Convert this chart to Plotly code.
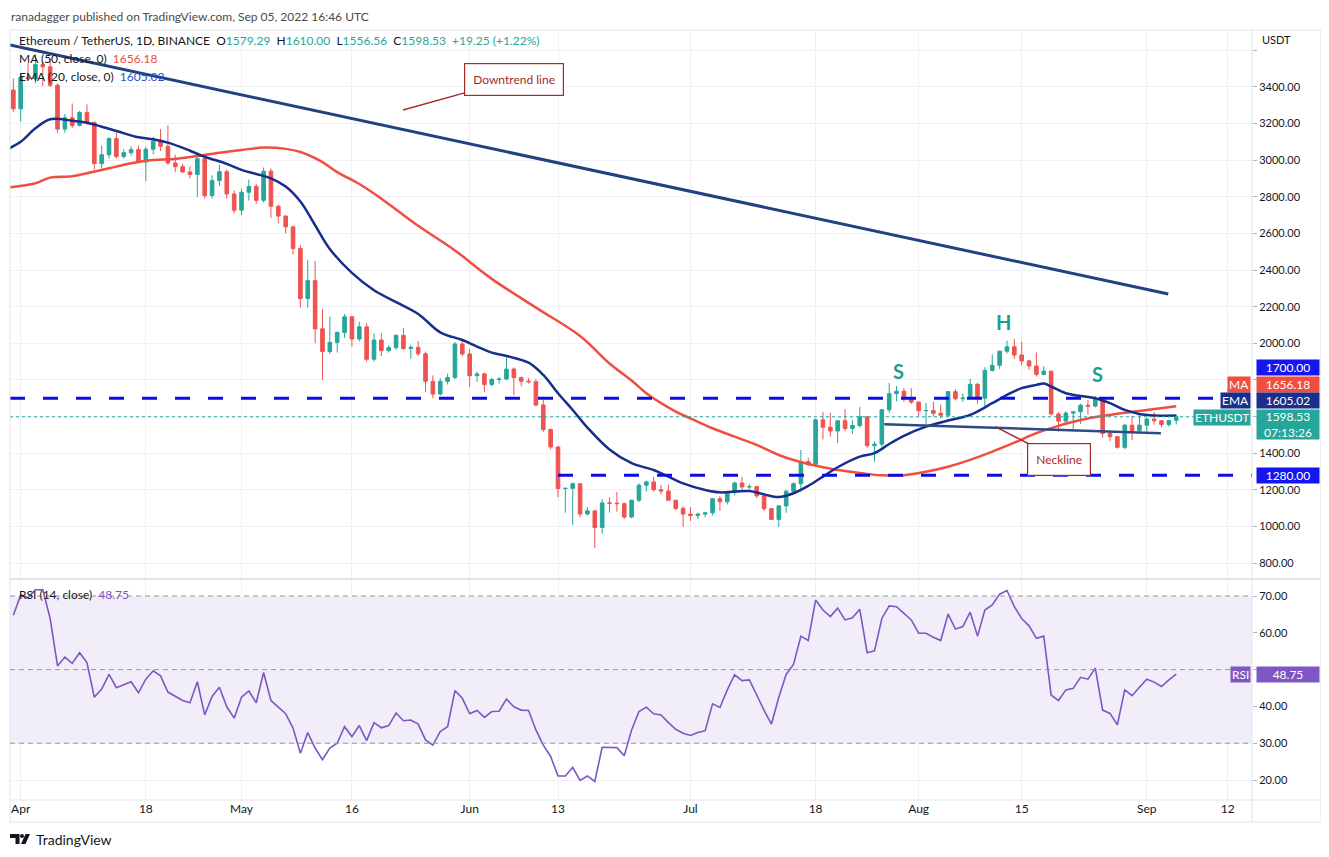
import pandas as pd
import plotly.graph_objects as go

# ---- data --------------------------------------------------------------------
dates = pd.date_range("2022-03-31", "2022-09-05", freq="D")

opens = [
    3383,
    3281, 3452, 3444, 3522, 3510, 3410, 3170, 3232, 3190, 3261, 3207, 2982, 3030, 3118, 3020,
    3041, 3058, 2990, 3060, 3104, 3076, 2985, 2965, 2936, 2922, 3008, 2807, 2889, 2937, 2816,
    2727, 2825, 2857, 2781, 2940, 2749, 2695, 2636, 2518, 2244, 2342, 2079, 1955, 2005, 2059,
    2145, 2024, 2090, 1913, 2018, 1960, 1976, 2043, 1972, 1978, 1943, 1793, 1723, 1792, 1813, 1996,
    1942, 1823, 1833, 1775, 1802, 1805, 1859, 1813, 1793, 1790, 1663, 1529, 1434, 1207, 1208,
    1233, 1068, 1085, 994, 1128, 1127, 1124, 1051, 1143, 1225, 1243, 1200, 1193, 1143, 1098,
    1067, 1059, 1067, 1074, 1151, 1134, 1187, 1237, 1215, 1217, 1167, 1097, 1038, 1112, 1192,
    1233, 1354, 1339, 1582, 1542, 1521, 1577, 1535, 1551, 1599, 1441, 1449, 1637, 1725, 1738, 1696,
    1679, 1632, 1633, 1618, 1607, 1736, 1697, 1701, 1776, 1700, 1852, 1880, 1957, 1981, 1936,
    1904, 1876, 1830, 1848, 1614, 1575, 1619, 1626, 1662, 1657, 1696, 1507, 1490, 1432, 1553, 1524,
    1553, 1586, 1577, 1556, 1579.29,
]
highs = [
    3446,
    3470, 3530, 3580, 3540, 3555, 3420, 3252, 3310, 3270, 3305, 3210, 3080, 3125, 3150, 3061,
    3076, 3080, 3074, 3128, 3170, 3190, 3030, 2980, 2965, 3018, 3037, 2918, 2975, 2950, 2835,
    2845, 2895, 2870, 2960, 2955, 2755, 2700, 2640, 2536, 2455, 2450, 2187, 2145, 2065, 2160,
    2148, 2117, 2110, 2055, 2055, 1990, 2050, 2085, 1990, 2013, 1955, 1825, 1810, 1835, 2007, 2023,
    1970, 1845, 1840, 1810, 1815, 1920, 1868, 1818, 1810, 1805, 1690, 1535, 1437, 1210, 1240,
    1233, 1105, 1085, 1150, 1160, 1188, 1130, 1145, 1235, 1250, 1270, 1226, 1228, 1145, 1110,
    1105, 1075, 1080, 1152, 1165, 1192, 1245, 1270, 1232, 1222, 1168, 1100, 1115, 1200, 1240,
    1417, 1375, 1590, 1625, 1620, 1580, 1640, 1580, 1652, 1600, 1465, 1640, 1783, 1767, 1756, 1755,
    1680, 1674, 1680, 1665, 1740, 1750, 1725, 1805, 1785, 1870, 1940, 1960, 2015, 2025, 2008,
    1910, 1950, 1875, 1850, 1625, 1630, 1630, 1670, 1690, 1712, 1700, 1515, 1495, 1560, 1605, 1608,
    1594, 1625, 1580, 1582, 1610.00,
]
lows = [
    3265,
    3210, 3436, 3420, 3405, 3400, 3150, 3150, 3175, 3185, 3195, 2950, 2955, 3010, 3010, 3010,
    3025, 2985, 2885, 3032, 3050, 2975, 2935, 2930, 2900, 2800, 2790, 2790, 2860, 2790, 2710,
    2700, 2780, 2760, 2770, 2685, 2655, 2600, 2485, 2195, 2195, 2000, 1800, 1940, 1950, 2030,
    1980, 2010, 1900, 1900, 1930, 1950, 1965, 1965, 1915, 1930, 1733, 1700, 1715, 1775, 1805, 1930,
    1762, 1790, 1733, 1765, 1780, 1800, 1718, 1765, 1780, 1655, 1515, 1420, 1160, 1075, 1008,
    1050, 1060, 882, 960, 1075, 1080, 1040, 1045, 1133, 1190, 1190, 1175, 1140, 1090, 997,
    1030, 1040, 1050, 1060, 1085, 1120, 1170, 1200, 1205, 1155, 1085, 1035, 997, 1075, 1175,
    1190, 1330, 1330, 1475, 1490, 1456, 1520, 1505, 1540, 1430, 1353, 1435, 1620, 1683, 1680, 1668,
    1600, 1555, 1600, 1590, 1600, 1688, 1680, 1695, 1670, 1655, 1845, 1860, 1945, 1915, 1880,
    1855, 1818, 1825, 1605, 1518, 1552, 1532, 1560, 1610, 1650, 1485, 1465, 1425, 1422, 1472, 1515,
    1520, 1555, 1540, 1545, 1556.56,
]
closes = [
    3281,
    3452, 3444, 3522, 3510, 3410, 3170, 3232, 3190, 3261, 3207, 2982, 3030, 3118, 3020, 3041,
    3058, 2990, 3060, 3104, 3076, 2985, 2965, 2936, 2922, 3008, 2807, 2889, 2937, 2816, 2727,
    2825, 2857, 2781, 2940, 2749, 2695, 2636, 2518, 2244, 2342, 2079, 1955, 2005, 2059, 2145,
    2024, 2090, 1913, 2018, 1960, 1976, 2043, 1972, 1978, 1943, 1793, 1723, 1792, 1813, 1996, 1942,
    1823, 1833, 1775, 1802, 1805, 1859, 1813, 1793, 1790, 1663, 1529, 1434, 1207, 1208, 1233,
    1068, 1085, 994, 1128, 1127, 1124, 1051, 1143, 1225, 1243, 1200, 1193, 1143, 1098, 1067,
    1059, 1067, 1074, 1151, 1134, 1187, 1237, 1215, 1217, 1167, 1097, 1038, 1112, 1192, 1233,
    1354, 1339, 1582, 1542, 1521, 1577, 1535, 1551, 1599, 1441, 1449, 1637, 1725, 1738, 1696, 1679,
    1632, 1633, 1618, 1607, 1736, 1697, 1701, 1776, 1700, 1852, 1880, 1957, 1981, 1936, 1904,
    1876, 1830, 1848, 1614, 1575, 1619, 1626, 1662, 1657, 1696, 1507, 1490, 1432, 1553, 1524, 1553,
    1586, 1577, 1556, 1579, 1598.53,
]
rsi = [
    64.8,
    70.3, 69.5, 71.7, 71.7, 63.9, 51.0, 53.4, 51.7, 54.6, 51.9, 42.5, 44.7, 48.7, 45.1, 45.8,
    46.7, 43.7, 47.4, 49.7, 48.3, 43.9, 42.7, 41.6, 41.0, 46.7, 37.7, 42.7, 45.2, 39.9, 36.8,
    42.5, 44.2, 41.0, 49.2, 41.6, 39.8, 38.0, 34.1, 27.3, 32.9, 28.7, 25.5, 28.7, 30.0, 34.5,
    31.8, 34.8, 30.7, 35.6, 34.2, 34.8, 38.2, 36.1, 36.3, 35.2, 30.9, 29.5, 33.2, 34.5, 44.3, 42.2,
    38.0, 38.9, 37.0, 38.6, 38.7, 42.0, 39.9, 39.0, 38.9, 33.6, 29.5, 26.4, 21.1, 21.1, 23.4,
    19.9, 21.1, 19.6, 28.9, 28.9, 28.8, 26.6, 33.6, 38.6, 39.8, 38.0, 37.7, 35.6, 33.8, 32.7,
    32.1, 32.9, 33.4, 40.7, 39.7, 44.5, 48.6, 47.0, 47.2, 43.1, 38.9, 35.2, 42.5, 48.7, 51.4,
    59.1, 57.9, 68.9, 66.2, 64.4, 66.7, 63.5, 64.1, 66.4, 54.6, 55.1, 63.9, 67.3, 67.1, 65.3, 63.5,
    59.9, 59.9, 58.8, 57.9, 65.1, 61.0, 61.7, 65.6, 59.1, 66.2, 67.6, 70.5, 71.5, 67.1, 63.9,
    61.9, 58.5, 59.1, 43.1, 41.6, 44.5, 44.9, 47.9, 47.4, 50.4, 39.0, 38.1, 35.0, 44.5, 42.9, 45.2,
    47.4, 46.6, 45.4, 47.2, 48.75,
]

ma_dates = [
    "2022-03-30", "2022-04-03", "2022-04-05", "2022-04-08", "2022-04-10", "2022-04-13",
    "2022-04-16", "2022-04-19", "2022-04-22", "2022-04-25", "2022-04-28", "2022-05-01",
    "2022-05-04", "2022-05-07", "2022-05-09", "2022-05-12", "2022-05-14", "2022-05-17",
    "2022-05-20", "2022-05-25", "2022-05-30", "2022-06-04", "2022-06-10", "2022-06-16",
    "2022-06-20", "2022-06-23", "2022-06-25", "2022-06-29", "2022-07-01", "2022-07-04",
    "2022-07-07", "2022-07-10", "2022-07-13", "2022-07-15", "2022-07-17", "2022-07-19",
    "2022-07-21", "2022-07-24", "2022-07-27", "2022-07-30", "2022-08-02", "2022-08-05",
    "2022-08-08", "2022-08-11", "2022-08-14", "2022-08-17", "2022-08-20", "2022-08-23",
    "2022-08-26", "2022-08-29", "2022-09-01", "2022-09-05",
]
ma_values = [
    2850, 2874, 2905, 2912, 2929, 2956, 2983, 3001, 3007, 3023, 3041, 3056, 3069, 3062, 3045,
    2990, 2935, 2870, 2790, 2642, 2507, 2352, 2195, 2040, 1890, 1797, 1727, 1627, 1590, 1536,
    1490, 1445, 1390, 1363, 1341, 1323, 1308, 1292, 1279, 1280, 1299, 1326, 1363, 1408, 1457,
    1509, 1549, 1581, 1603, 1621, 1636, 1656.18,
]
ema_dates = [
    "2022-03-30", "2022-04-01", "2022-04-03", "2022-04-05", "2022-04-08", "2022-04-10",
    "2022-04-12", "2022-04-14", "2022-04-17", "2022-04-19", "2022-04-21", "2022-04-24",
    "2022-04-26", "2022-04-29", "2022-05-01", "2022-05-03", "2022-05-05", "2022-05-07",
    "2022-05-09", "2022-05-11", "2022-05-13", "2022-05-16", "2022-05-19", "2022-05-22",
    "2022-05-25", "2022-05-28", "2022-05-31", "2022-06-02", "2022-06-04", "2022-06-06",
    "2022-06-09", "2022-06-11", "2022-06-13", "2022-06-15", "2022-06-17", "2022-06-20",
    "2022-06-23", "2022-06-26", "2022-06-28", "2022-06-30", "2022-07-03", "2022-07-05",
    "2022-07-07", "2022-07-09", "2022-07-11", "2022-07-13", "2022-07-15", "2022-07-17",
    "2022-07-19", "2022-07-21", "2022-07-24", "2022-07-26", "2022-07-28", "2022-07-30",
    "2022-08-02", "2022-08-05", "2022-08-08", "2022-08-11", "2022-08-13", "2022-08-15",
    "2022-08-17", "2022-08-18", "2022-08-19", "2022-08-21", "2022-08-23", "2022-08-25",
    "2022-08-27", "2022-08-29", "2022-08-31", "2022-09-02", "2022-09-05",
]
ema_values = [
    3056, 3101, 3174, 3224, 3216, 3205, 3183, 3160, 3125, 3114, 3096, 3052, 3019, 2980, 2947,
    2925, 2901, 2856, 2774, 2645, 2515, 2385, 2290, 2225, 2160, 2060, 2018, 1982, 1949, 1931,
    1894, 1827, 1727, 1636, 1540, 1420, 1345, 1308, 1272, 1235, 1199, 1186, 1190, 1193, 1175,
    1160, 1181, 1221, 1272, 1323, 1381, 1400, 1450, 1495, 1545, 1578, 1609, 1673, 1718, 1755,
    1773, 1780, 1764, 1727, 1712, 1700, 1673, 1636, 1614, 1606, 1605.02,
]

downtrend_dates = ["2022-03-30 13:00", "2022-09-03 22:00"]
downtrend_prices = [3629, 2269]
neckline_dates = ["2022-07-27 08:00", "2022-09-02 22:00"]
neckline_prices = [1558, 1509]
resistance_level = 1700
support_level = 1280
support_start = "2022-06-13"
last_close = 1598.53
ma_last = 1656.18
ema_last = 1605.02
rsi_last = 48.75

price_ticks = list(range(800, 3601, 200))
# labels hidden behind the right-hand tags in the original
price_tick_text = ["" if v in (1600, 1800, 3600) else f"{v:.2f}" for v in price_ticks]
rsi_ticks = [20, 30, 40, 50, 60, 70]
rsi_tick_text = ["20.00", "30.00", "40.00", "", "60.00", "70.00"]
x_tick_dates = ["2022-04-01", "2022-04-18", "2022-05-01", "2022-05-16", "2022-06-01", "2022-06-13",
                "2022-07-01", "2022-07-18", "2022-08-01", "2022-08-15", "2022-09-01", "2022-09-12"]
x_tick_text = ["Apr", "18", "May", "16", "Jun", "13", "Jul", "18", "Aug", "15", "Sep", "12"]

# ---- styling -----------------------------------------------------------------
UP = "#26a69a"
DOWN = "#ef5350"
MA_RED = "#f04e3e"
EMA_BLUE = "#172f8c"
TREND_BLUE = "#21427f"
LEVEL_BLUE = "#0c0ce6"
RSI_PURPLE = "#7e57c2"
CALLOUT = "#a52a2a"
GRID = "#eef0f5"
TEXT = "#131722"
FONT = "Lato, Open Sans, sans-serif"

# the page body has an 8px margin, so the figure is drawn 8px smaller and
# every reference pixel position below is expressed through px_x / px_y
PAGE_PAD = 8
W, H = 1329 - PAGE_PAD, 857 - PAGE_PAD
L_PX, R_PX, T_PX, B_PX = 10, 1252, 30, 800  # plot area in reference pixels
X_RANGE = ["2022-03-30 13:05", "2022-09-15 07:00"]


def px_x(px):
    return (px - L_PX) / (R_PX - L_PX)


def px_y(py):
    return (B_PX - py) / (B_PX - T_PX)


fig = go.Figure()

fig.add_trace(go.Candlestick(
    x=dates, open=opens, high=highs, low=lows, close=closes,
    increasing=dict(line=dict(color=UP, width=1), fillcolor=UP),
    decreasing=dict(line=dict(color=DOWN, width=1), fillcolor=DOWN),
    whiskerwidth=0, xaxis="x", yaxis="y", hoverinfo="skip",
))
fig.add_trace(go.Scatter(x=pd.to_datetime(ma_dates), y=ma_values, mode="lines",
                         line=dict(color=MA_RED, width=2.5, shape="spline"), xaxis="x", yaxis="y"))
fig.add_trace(go.Scatter(x=pd.to_datetime(ema_dates), y=ema_values, mode="lines",
                         line=dict(color=EMA_BLUE, width=2.5, shape="spline"), xaxis="x", yaxis="y"))
fig.add_trace(go.Scatter(x=pd.to_datetime(downtrend_dates), y=downtrend_prices, mode="lines",
                         line=dict(color=TREND_BLUE, width=3), xaxis="x", yaxis="y"))
fig.add_trace(go.Scatter(x=pd.to_datetime(neckline_dates), y=neckline_prices, mode="lines",
                         line=dict(color="#2c4a86", width=2.5), xaxis="x", yaxis="y"))
fig.add_trace(go.Scatter(x=dates, y=rsi, mode="lines",
                         line=dict(color=RSI_PURPLE, width=1.6), xaxis="x2", yaxis="y2"))

shapes = [
    dict(type="rect", xref="paper", yref="y2", x0=0, x1=1, y0=30, y1=70,
         fillcolor="rgba(126,87,194,0.1)", line=dict(width=0), layer="below"),
    dict(type="line", xref="paper", yref="y", x0=0, x1=1, y0=resistance_level, y1=resistance_level,
         line=dict(color=LEVEL_BLUE, width=3, dash="15px,18px")),
    dict(type="line", xref="x", yref="y", x0=support_start, x1=X_RANGE[1], y0=support_level,
         y1=support_level, line=dict(color=LEVEL_BLUE, width=3, dash="15px,18px")),
    dict(type="line", xref="paper", yref="y", x0=0, x1=1, y0=last_close, y1=last_close,
         line=dict(color=UP, width=1, dash="dot")),
    # frame
    dict(type="rect", xref="paper", yref="paper", x0=0, x1=px_x(1321), y0=px_y(822), y1=1,
         line=dict(color="#e0e3eb", width=1)),
    dict(type="line", xref="paper", yref="paper", x0=0, x1=px_x(1321), y0=px_y(579), y1=px_y(579),
         line=dict(color="#e0e3eb", width=2)),
    dict(type="line", xref="paper", yref="paper", x0=1, x1=1, y0=px_y(822), y1=1,
         line=dict(color="#e0e3eb", width=1)),
    dict(type="line", xref="paper", yref="paper", x0=0, x1=px_x(1321), y0=0, y1=0,
         line=dict(color="#e0e3eb", width=1)),
    # TradingView logo mark
    dict(type="path", xref="paper", yref="paper", fillcolor=TEXT, line=dict(width=0),
         path=f"M {px_x(10)} {px_y(834)} L {px_x(19.5)} {px_y(834)} L {px_x(19.5)} {px_y(844)} "
              f"L {px_x(15.5)} {px_y(844)} L {px_x(15.5)} {px_y(838)} L {px_x(10)} {px_y(838)} Z"),
    dict(type="circle", xref="paper", yref="paper", fillcolor=TEXT, line=dict(width=0),
         x0=px_x(20), x1=px_x(24), y0=px_y(838), y1=px_y(834)),
    dict(type="path", xref="paper", yref="paper", fillcolor=TEXT, line=dict(width=0),
         path=f"M {px_x(25.5)} {px_y(834)} L {px_x(30)} {px_y(834)} L {px_x(25.5)} {px_y(844)} "
              f"L {px_x(21)} {px_y(844)} Z"),
]
for lvl in (30, 50, 70):
    shapes.append(dict(type="line", xref="paper", yref="y2", x0=0, x1=1, y0=lvl, y1=lvl,
                       line=dict(color="#9598a1", width=1, dash="5px,4px")))

annotations = [
    dict(xref="paper", yref="paper", x=0, y=px_y(16), xanchor="left", yanchor="middle",
         text="ranadagger published on TradingView.com, Sep 05, 2022 16:46 UTC",
         showarrow=False, borderpad=0, font=dict(size=12, color="#4a4a4a")),
    dict(xref="paper", yref="paper", x=px_x(17), y=px_y(41), xanchor="left", yanchor="middle",
         showarrow=False, font=dict(size=12, color=TEXT),
         text=(f"Ethereum / TetherUS, 1D, BINANCE  O<span style='color:{UP}'>1579.29</span>  "
               f"H<span style='color:{UP}'>1610.00</span>  L<span style='color:{UP}'>1556.56</span>  "
               f"C<span style='color:{UP}'>1598.53</span>  <span style='color:{UP}'>+19.25 (+1.22%)</span>")),
    dict(xref="paper", yref="paper", x=px_x(17), y=px_y(58), xanchor="left", yanchor="middle",
         showarrow=False, font=dict(size=12, color=TEXT),
         text=f"MA (50, close, 0)  <span style='color:{MA_RED}'>1656.18</span>"),
    dict(xref="paper", yref="paper", x=px_x(17), y=px_y(76), xanchor="left", yanchor="middle",
         showarrow=False, font=dict(size=12, color=TEXT),
         text="EMA (20, close, 0)  <span style='color:#2a50c8'>1605.02</span>"),
    dict(xref="paper", yref="paper", x=px_x(17), y=px_y(594), xanchor="left", yanchor="middle",
         showarrow=False, font=dict(size=12, color=TEXT),
         text=f"RSI (14, close)  <span style='color:{RSI_PURPLE}'>48.75</span>"),
    dict(xref="paper", yref="paper", x=px_x(34), y=px_y(839), xanchor="left", yanchor="middle",
         showarrow=False, font=dict(size=14, color=TEXT), text="TradingView"),
    dict(xref="paper", yref="paper", x=1, y=px_y(31), xanchor="left", yanchor="top", xshift=8,
         showarrow=False, font=dict(size=11, color=TEXT), text="USDT"),
    # callouts
    dict(xref="x", yref="y", x="2022-05-22 22:30", y=3274, ax=111, ay=-31, axref="pixel",
         ayref="pixel", text="Downtrend line", showarrow=True, arrowhead=0, arrowwidth=1.5,
         arrowcolor=CALLOUT, standoff=0, font=dict(size=12, color=CALLOUT), bgcolor="white",
         bordercolor=CALLOUT, borderwidth=1.2, borderpad=8),
    dict(xref="x", yref="y", x="2022-08-11 10:00", y=1545, ax=64, ay=33, axref="pixel",
         ayref="pixel", text="Neckline", showarrow=True, arrowhead=0, arrowwidth=1.5,
         arrowcolor=CALLOUT, standoff=0, font=dict(size=12, color=CALLOUT), bgcolor="white",
         bordercolor=CALLOUT, borderwidth=1.2, borderpad=8),
]
for when, price, letter in [("2022-07-29 07:00", 1849, "S"), ("2022-08-12 14:00", 2118, "H"),
                            ("2022-08-25 07:00", 1833, "S")]:
    annotations.append(dict(xref="x", yref="y", x=when, y=price, text=f"<b>{letter}</b>",
                            showarrow=False, font=dict(size=20, color="#1f9e8f")))


def tag(y, text, color, yref="y", yshift=0, height=13):
    return dict(xref="paper", yref=yref, x=1, y=y, xanchor="left", yanchor="middle", xshift=4,
                yshift=yshift, text=text, showarrow=False, bgcolor=color, width=60, height=height,
                font=dict(size=12, color="white"), borderpad=1)


def side_tag(y, text, color, yref="y", yshift=0):
    return dict(xref="paper", yref=yref, x=1, y=y, xanchor="right", yanchor="middle", xshift=-1,
                yshift=yshift, text=text, showarrow=False, bgcolor=color, height=13,
                font=dict(size=12, color="white"), borderpad=1)


# tags are stacked above their level in the original, hence the pixel shifts
annotations += [
    tag(resistance_level, "1700.00", "#1515f0", yshift=31),
    tag(ma_last, "1656.18", MA_RED, yshift=22),
    side_tag(ma_last, "MA", MA_RED, yshift=22),
    tag(ema_last, "1605.02", "#1b2f8a", yshift=15),
    side_tag(ema_last, "EMA", "#1b2f8a", yshift=15),
    tag(last_close, "1598.53<br>07:13:26", UP, yshift=-8, height=27),
    side_tag(last_close, "ETHUSDT", UP, yshift=-1),
    tag(support_level, "1280.00", "#1515f0"),
    tag(rsi_last, "48.75", RSI_PURPLE, yref="y2"),
    side_tag(rsi_last, "RSI", RSI_PURPLE, yref="y2"),
]

axis_font = dict(size=11, color=TEXT)
fig.update_layout(
    width=W, height=H,
    margin=dict(l=L_PX - PAGE_PAD, r=W - (R_PX - PAGE_PAD), t=T_PX - PAGE_PAD,
                b=H - (B_PX - PAGE_PAD)),
    paper_bgcolor="white", plot_bgcolor="white",
    font=dict(family=FONT, color=TEXT),
    showlegend=False,
    shapes=shapes,
    annotations=annotations,
    xaxis=dict(domain=[0, 1], anchor="y", type="date", range=X_RANGE, tickvals=x_tick_dates,
               showticklabels=False, showgrid=True, gridcolor=GRID, zeroline=False,
               rangeslider=dict(visible=False), fixedrange=True),
    xaxis2=dict(domain=[0, 1], anchor="y2", type="date", range=X_RANGE, matches="x",
                tickvals=x_tick_dates, ticktext=x_tick_text, showgrid=True, gridcolor=GRID,
                zeroline=False, tickfont=dict(size=12, color=TEXT), ticks="", ticklabelstandoff=0),
    yaxis=dict(domain=[px_y(578), 1], anchor="x", side="right", range=[718.1, 3711.3],
               tickvals=price_ticks, ticktext=price_tick_text, showgrid=True, gridcolor=GRID,
               zeroline=False, tickfont=axis_font, ticks="outside", ticklen=4, tickcolor="#b2b5be"),
    yaxis2=dict(domain=[0, px_y(580)], anchor="x2", side="right", range=[14.57, 74.35],
                tickvals=rsi_ticks, ticktext=rsi_tick_text, showgrid=True, gridcolor=GRID,
                zeroline=False, tickfont=axis_font, ticks="outside", ticklen=4, tickcolor="#b2b5be"),
)

fig.write_html("out.html")
